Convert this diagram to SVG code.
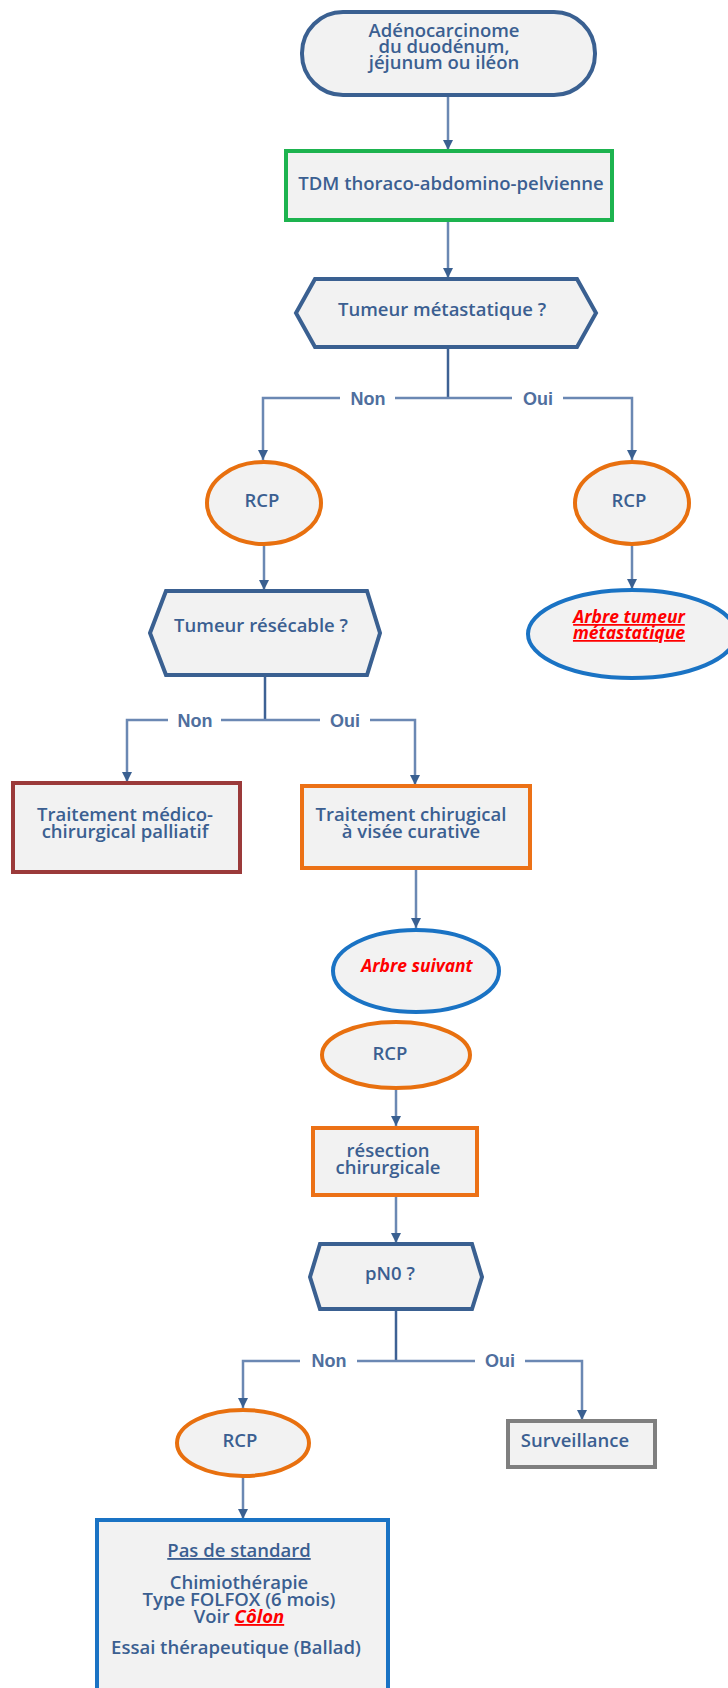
<svg xmlns="http://www.w3.org/2000/svg" width="728" height="1688" viewBox="0 0 728 1688">
<style>
.t{font-family:"Open Sans","Liberation Sans",sans-serif;font-weight:600;font-size:18.5px;fill:#3b5f91;text-anchor:middle}
.lbl{font-family:"Liberation Sans",Arial,sans-serif;font-weight:700;font-size:18px;fill:#4f6f9e;text-anchor:middle}
.red{font-family:"Open Sans","Liberation Sans",sans-serif;font-weight:700;font-style:italic;fill:#ff0000;text-anchor:middle}
.n{fill:#f2f2f2;stroke-width:4}
.c{fill:none;stroke:#6b88b3;stroke-width:2.5}
</style>
<defs>
<marker id="ah" viewBox="0 0 10 10" refX="10" refY="5" markerWidth="10" markerHeight="10" markerUnits="userSpaceOnUse" orient="auto">
<path d="M0,0 L10,5 L0,10 z" fill="#3a6091"/>
</marker>
</defs>
<rect width="728" height="1688" fill="#ffffff"/>

<g id="connectors">
<path class="c" d="M448,95 V150" marker-end="url(#ah)"/>
<path class="c" d="M448,220 V278" marker-end="url(#ah)"/>
<path class="c" d="M448,347 V398" style="stroke:#3d6194"/>
<path class="c" d="M448,398 H512 M563,398 H632 V460" marker-end="url(#ah)"/>
<path class="c" d="M448,398 H395 M340,398 H263 V460" marker-end="url(#ah)"/>
<path class="c" d="M264,544 V590" marker-end="url(#ah)"/>
<path class="c" d="M632,544 V589" marker-end="url(#ah)"/>
<path class="c" d="M265,675 V720" style="stroke:#3d6194"/>
<path class="c" d="M265,720 H221 M168,720 H127 V782" marker-end="url(#ah)"/>
<path class="c" d="M265,720 H320 M370,720 H415 V785" marker-end="url(#ah)"/>
<path class="c" d="M416,868 V928" marker-end="url(#ah)"/>
<path class="c" d="M396,1088 V1126" marker-end="url(#ah)"/>
<path class="c" d="M396,1195 V1243" marker-end="url(#ah)"/>
<path class="c" d="M396,1309 V1361" style="stroke:#3d6194"/>
<path class="c" d="M396,1361 H357 M300,1361 H243 V1408" marker-end="url(#ah)"/>
<path class="c" d="M396,1361 H475 M525,1361 H582 V1420" marker-end="url(#ah)"/>
<path class="c" d="M243,1477 V1519" marker-end="url(#ah)"/>
<text class="lbl" x="368" y="405">Non</text>
<text class="lbl" x="538" y="405">Oui</text>
<text class="lbl" x="195" y="727">Non</text>
<text class="lbl" x="345" y="727">Oui</text>
<text class="lbl" x="329" y="1367">Non</text>
<text class="lbl" x="500" y="1367">Oui</text>
</g>

<g id="start">
<rect class="n" x="302" y="12" width="293" height="83" rx="41" stroke="#3a6091"/>
<text class="t" font-size="18" x="444" y="37">Adénocarcinome</text>
<text class="t" font-size="18" x="444" y="53">du duodénum,</text>
<text class="t" font-size="18" x="444" y="69">jéjunum ou iléon</text>
</g>

<g id="tdm">
<rect class="n" x="286" y="151" width="326" height="69" stroke="#1db34f"/>
<text class="t" x="451" y="190">TDM thoraco-abdomino-pelvienne</text>
</g>

<g id="hex1">
<polygon class="n" points="296,313 315,279 577,279 596,313 577,347 315,347" stroke="#3a6091"/>
<text class="t" x="442" y="316">Tumeur métastatique ?</text>
</g>

<g id="rcp1">
<ellipse class="n" cx="264" cy="503" rx="57" ry="41" stroke="#e8700f"/>
<text class="t" font-size="19" x="262" y="507">RCP</text>
</g>

<g id="rcp2">
<ellipse class="n" cx="632" cy="503" rx="57" ry="41" stroke="#e8700f"/>
<text class="t" font-size="19" x="629" y="507">RCP</text>
</g>

<g id="hex2">
<polygon class="n" points="150,633 166,591 367,591 380,633 367,675 166,675" stroke="#3a6091"/>
<text class="t" x="261" y="632">Tumeur résécable ?</text>
</g>

<g id="arbre-meta">
<ellipse class="n" cx="632" cy="634" rx="104" ry="44" stroke="#1a73c4"/>
<text class="red" font-size="17.5" x="629" y="623" text-decoration="underline">Arbre tumeur</text>
<text class="red" font-size="17.5" x="629" y="639" text-decoration="underline">métastatique</text>
</g>

<g id="palliatif">
<rect class="n" x="13" y="783" width="227" height="89" stroke="#9b3a3a"/>
<text class="t" x="125" y="821">Traitement médico-</text>
<text class="t" x="125" y="838">chirurgical palliatif</text>
</g>

<g id="curatif">
<rect class="n" x="302" y="786" width="228" height="82" stroke="#ec7116"/>
<text class="t" font-size="18" x="411" y="821">Traitement chirugical</text>
<text class="t" font-size="18" x="411" y="838">à visée curative</text>
</g>

<g id="arbre-suivant">
<ellipse class="n" cx="416" cy="971" rx="83" ry="41" stroke="#1a73c4"/>
<text class="red" font-size="17.5" x="417" y="972">Arbre suivant</text>
</g>

<g id="rcp3">
<ellipse class="n" cx="396" cy="1055" rx="74" ry="33" stroke="#e8700f"/>
<text class="t" font-size="19" x="390" y="1060">RCP</text>
</g>

<g id="resection">
<rect class="n" x="313" y="1128" width="164" height="67" stroke="#ec7116"/>
<text class="t" x="388" y="1157">résection</text>
<text class="t" x="388" y="1174">chirurgicale</text>
</g>

<g id="hex3">
<polygon class="n" points="310,1277 320,1244 472,1244 482,1277 472,1309 320,1309" stroke="#3a6091"/>
<text class="t" font-size="18" x="390" y="1280">pN0 ?</text>
</g>

<g id="rcp4">
<ellipse class="n" cx="243" cy="1443" rx="66" ry="33" stroke="#e8700f"/>
<text class="t" font-size="19" x="240" y="1447">RCP</text>
</g>

<g id="surveillance">
<rect class="n" x="508" y="1421" width="147" height="46" stroke="#7f7f7f"/>
<text class="t" font-size="18" x="575" y="1447">Surveillance</text>
</g>

<g id="standard">
<rect class="n" x="97" y="1520" width="291" height="190" stroke="#1a73c4"/>
<text class="t" x="239" y="1557" text-decoration="underline">Pas de standard</text>
<text class="t" x="239" y="1589">Chimiothérapie</text>
<text class="t" x="239" y="1606">Type FOLFOX (6 mois)</text>
<text class="t" x="239" y="1623">Voir <tspan class="red" style="text-decoration:underline">Côlon</tspan></text>
<text class="t" x="236" y="1654">Essai thérapeutique (Ballad)</text>
</g>
</svg>
